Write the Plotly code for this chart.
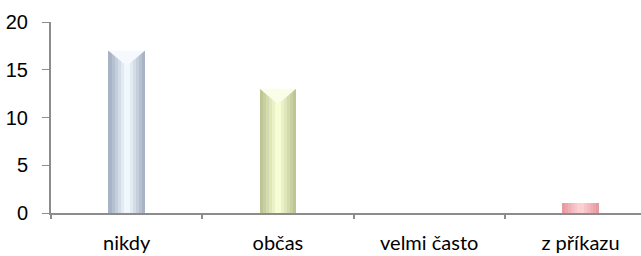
import plotly.graph_objects as go

categories = ["nikdy", "občas", "velmi často", "z příkazu"]
values = [17, 13, 0, 1]
y_ticks = [0, 5, 10, 15, 20]

# edge colour -> centre colour per bar (bevelled look)
edge_colors = ["#a8b4c5", "#bcc594", "#e3b0b0", "#e69ba0"]
center_colors = ["#f0f7fd", "#f6fcd4", "#ffffff", "#fbd0d3"]
tops = ["#f6f9fd", "#fafde8", "#ffffff", "#f6b9bc"]
n_layers = 6
bar_w = 0.24


def mix(c1, c2, t):
    a = [int(c1[i:i + 2], 16) for i in (1, 3, 5)]
    b = [int(c2[i:i + 2], 16) for i in (1, 3, 5)]
    return "#" + "".join(f"{round(x + (y - x) * t):02x}" for x, y in zip(a, b))


xpos = list(range(len(categories)))
fig = go.Figure()
for layer in range(n_layers):
    t = layer / (n_layers - 1)
    w = bar_w * (1 - layer / n_layers)
    fig.add_trace(go.Bar(
        x=xpos, y=values, width=w,
        marker=dict(color=[mix(e, c, t) for e, c in zip(edge_colors, center_colors)],
                    line=dict(width=0)),
        hoverinfo="skip", showlegend=False,
    ))

# light V-notch at the top of the taller bars (derived from the values)
notch = 1.6
for i, v in enumerate(values):
    if v >= 3:
        fig.add_trace(go.Scatter(
            x=[i - bar_w / 2, i + bar_w / 2, i, i - bar_w / 2],
            y=[v, v, v - notch, v],
            mode="lines", fill="toself", fillcolor=tops[i],
            line=dict(width=0), hoverinfo="skip", showlegend=False,
        ))

fig.update_layout(
    width=641, height=256,
    margin=dict(l=51, r=0, t=22, b=43),
    paper_bgcolor="white", plot_bgcolor="white",
    barmode="overlay", bargap=0,
    xaxis=dict(
        range=[-0.5, 3.4], tickvals=xpos, ticktext=categories,
        ticks="", ticklen=0, showgrid=False, zeroline=False,
        showline=True, linecolor="#8c8c8c", linewidth=2,
        tickfont=dict(family="Lato, Open Sans, sans-serif", size=20, color="#000"),
        ticklabelstandoff=11, automargin=False,
    ),
    xaxis2=dict(
        overlaying="x", side="bottom", matches="x",
        tickvals=[-0.5, 0.5, 1.5, 2.5], showticklabels=False,
        ticks="outside", ticklen=5, tickwidth=2, tickcolor="#8c8c8c",
        showgrid=False, zeroline=False, showline=False, automargin=False,
    ),
    yaxis=dict(
        range=[0, 20], tickvals=y_ticks,
        ticks="outside", ticklen=7, tickwidth=1, tickcolor="#8c8c8c",
        showgrid=False, zeroline=False,
        showline=True, linecolor="#8c8c8c", linewidth=2,
        tickfont=dict(family="Liberation Sans, Arial, sans-serif", size=20, color="#000"),
        ticklabelstandoff=10, automargin=False,
    ),
)
# invisible trace to activate xaxis2
fig.add_trace(go.Scatter(x=[0], y=[0], xaxis="x2", mode="markers",
                         marker=dict(opacity=0), hoverinfo="skip", showlegend=False))
fig.write_html("out.html", config={"displayModeBar": False},
               post_script="document.body.style.margin='0';document.body.style.padding='0';")
